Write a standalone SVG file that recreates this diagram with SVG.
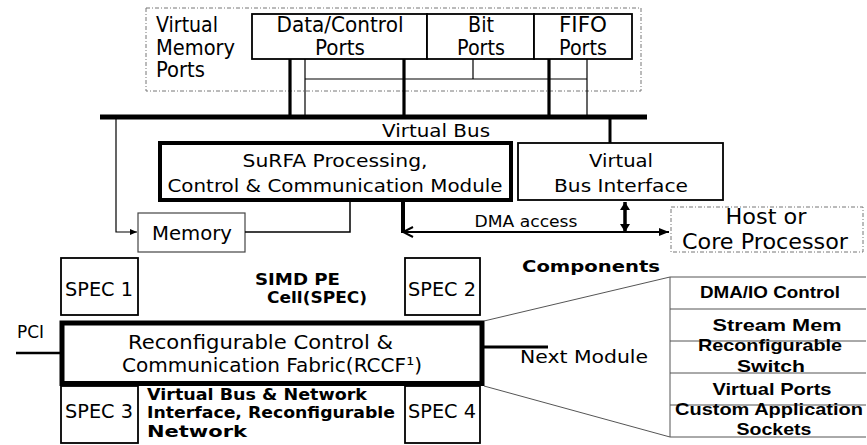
<svg xmlns="http://www.w3.org/2000/svg" width="867" height="445" viewBox="0 0 867 445">
  <style>
    .t { font-family: "DejaVu Sans", Verdana, sans-serif; fill: #000; }
    .b { font-family: "DejaVu Sans", Verdana, sans-serif; font-weight: bold; fill: #000; }
    .a { font-family: "Liberation Sans", Arial, sans-serif; font-weight: bold; fill: #000; font-size: 16.5px; }
    .m { text-anchor: middle; }
    .box { fill: #fff; stroke: #000; stroke-width: 1.8; }
    .heavy { fill: #fff; stroke: #000; stroke-width: 4; }
    .dash { fill: none; stroke: #777; stroke-width: 1; stroke-dasharray: 4 2 1 2; }
    .w { fill: none; stroke: #000; }
    .g { fill: none; stroke: #555; stroke-width: 1; }
  </style>
  <defs>
    <marker id="ah" markerUnits="userSpaceOnUse" markerWidth="10" markerHeight="8" refX="10" refY="4" orient="auto-start-reverse">
      <path d="M0,0 L10,4 L0,8 z" fill="#000"/>
    </marker>
    <marker id="ahSmall" markerUnits="userSpaceOnUse" markerWidth="7" markerHeight="6" refX="7" refY="3" orient="auto">
      <path d="M0,0 L7,3 L0,6 z" fill="#000"/>
    </marker>
    <marker id="chev" markerUnits="userSpaceOnUse" markerWidth="12" markerHeight="12" refX="11" refY="6" orient="auto-start-reverse">
      <path d="M1,1 L11,6 L1,11" fill="none" stroke="#000" stroke-width="2"/>
    </marker>
    <marker id="ahBig" markerUnits="userSpaceOnUse" markerWidth="8" markerHeight="10" refX="8" refY="5" orient="auto-start-reverse">
      <path d="M0,0 L8,5 L0,10 z" fill="#000"/>
    </marker>
  </defs>

  <!-- Virtual memory ports cluster -->
  <g id="virtual-memory-ports">
    <rect class="dash" x="146" y="8" width="495" height="83"/>
    <text class="t" font-size="20.5" x="156" y="32" textLength="62" lengthAdjust="spacingAndGlyphs">Virtual</text>
    <text class="t" font-size="20.5" x="156" y="55" textLength="79" lengthAdjust="spacingAndGlyphs">Memory</text>
    <text class="t" font-size="20.5" x="156" y="77" textLength="49" lengthAdjust="spacingAndGlyphs">Ports</text>
  </g>
  <g id="data-control-ports">
    <rect class="box" x="252" y="14" width="175" height="45"/>
    <text class="t m" font-size="20.5" x="340" y="32" textLength="127" lengthAdjust="spacingAndGlyphs">Data/Control</text>
    <text class="t m" font-size="20.5" x="340" y="55" textLength="50" lengthAdjust="spacingAndGlyphs">Ports</text>
  </g>
  <g id="bit-ports">
    <rect class="box" x="427" y="14" width="107" height="45"/>
    <text class="t m" font-size="20.5" x="481" y="32" textLength="26" lengthAdjust="spacingAndGlyphs">Bit</text>
    <text class="t m" font-size="20.5" x="481" y="55" textLength="48" lengthAdjust="spacingAndGlyphs">Ports</text>
  </g>
  <g id="fifo-ports">
    <rect class="box" x="534" y="14" width="98" height="45"/>
    <text class="t m" font-size="20.5" x="583" y="32" textLength="48" lengthAdjust="spacingAndGlyphs">FIFO</text>
    <text class="t m" font-size="20.5" x="583" y="55" textLength="48" lengthAdjust="spacingAndGlyphs">Ports</text>
  </g>

  <!-- Modules -->
  <g id="surfa-module">
    <rect class="heavy" x="160" y="143" width="351" height="57"/>
    <text class="t m" font-size="17.5" x="335" y="167" textLength="185" lengthAdjust="spacingAndGlyphs">SuRFA Processing,</text>
    <text class="t m" font-size="17.5" x="335" y="192" textLength="335" lengthAdjust="spacingAndGlyphs">Control &amp; Communication Module</text>
  </g>
  <g id="virtual-bus-interface">
    <rect class="box" x="518" y="143" width="205" height="57"/>
    <text class="t m" font-size="17.5" x="621" y="167" textLength="64" lengthAdjust="spacingAndGlyphs">Virtual</text>
    <text class="t m" font-size="17.5" x="621" y="192" textLength="134" lengthAdjust="spacingAndGlyphs">Bus Interface</text>
  </g>
  <g id="memory">
    <rect x="138" y="213" width="107" height="39" fill="#fff" stroke="#444" stroke-width="1.2"/>
    <text class="t m" font-size="20" x="192" y="240" textLength="80" lengthAdjust="spacingAndGlyphs">Memory</text>
  </g>
  <g id="host-processor">
    <rect class="dash" x="671" y="207" width="192" height="45"/>
    <text class="t m" font-size="21.5" x="766" y="224" textLength="81" lengthAdjust="spacingAndGlyphs">Host or</text>
    <text class="t m" font-size="21.5" x="765" y="249" textLength="166" lengthAdjust="spacingAndGlyphs">Core Processor</text>
  </g>

  <!-- SIMD PE cells around the fabric -->
  <g id="spec-1">
    <rect class="box" x="61" y="258" width="77" height="57"/>
    <text class="t m" font-size="20" x="99" y="296" textLength="68" lengthAdjust="spacingAndGlyphs">SPEC 1</text>
  </g>
  <g id="spec-2">
    <rect class="box" x="405" y="258" width="75" height="57"/>
    <text class="t m" font-size="20" x="442" y="296" textLength="68" lengthAdjust="spacingAndGlyphs">SPEC 2</text>
  </g>
  <g id="spec-3">
    <rect class="box" x="61" y="386" width="77" height="57"/>
    <text class="t m" font-size="20" x="99" y="418" textLength="68" lengthAdjust="spacingAndGlyphs">SPEC 3</text>
  </g>
  <g id="spec-4">
    <rect class="box" x="405" y="386" width="75" height="57"/>
    <text class="t m" font-size="20" x="442" y="418" textLength="68" lengthAdjust="spacingAndGlyphs">SPEC 4</text>
  </g>
  <g id="spec-label">
    <text class="b m" font-size="16" x="297.5" y="285" textLength="85" lengthAdjust="spacingAndGlyphs">SIMD PE</text>
    <text class="b m" font-size="16" x="317" y="303" textLength="100" lengthAdjust="spacingAndGlyphs">Cell(SPEC)</text>
  </g>
  <g id="network-label">
    <text class="b" font-size="16" x="147" y="400" textLength="220" lengthAdjust="spacingAndGlyphs">Virtual Bus &amp; Network</text>
    <text class="b" font-size="16" x="147" y="418" textLength="248" lengthAdjust="spacingAndGlyphs">Interface, Reconfigurable</text>
    <text class="b" font-size="16" x="147" y="437" textLength="100" lengthAdjust="spacingAndGlyphs">Network</text>
  </g>
  <g id="rccf">
    <rect x="62" y="323" width="420" height="60.5" fill="#fff" stroke="#000" stroke-width="5"/>
    <text class="t m" font-size="20" x="260.5" y="349" textLength="265" lengthAdjust="spacingAndGlyphs">Reconfigurable Control &amp;</text>
    <text class="t m" font-size="20" x="272" y="372" textLength="300" lengthAdjust="spacingAndGlyphs">Communication Fabric(RCCF¹)</text>
  </g>

  <!-- Component breakdown table -->
  <g id="components">
    <text class="b m" font-size="16.5" x="591" y="272" textLength="138" lengthAdjust="spacingAndGlyphs">Components</text>
    <path class="g" d="M670,277 H866 M670,309 H866 M670,341 H866 M670,373 H866 M670,405 H866 M670,437 H866 M670,277 V437"/>
    <text class="a m" x="770" y="298" textLength="140" lengthAdjust="spacingAndGlyphs">DMA/IO Control</text>
    <text class="a m" x="777" y="331" textLength="129" lengthAdjust="spacingAndGlyphs">Stream Mem</text>
    <text class="a m" x="770" y="351" textLength="144" lengthAdjust="spacingAndGlyphs">Reconfigurable</text>
    <text class="a m" x="771" y="372" textLength="68" lengthAdjust="spacingAndGlyphs">Switch</text>
    <text class="a m" x="772" y="395" textLength="119" lengthAdjust="spacingAndGlyphs">Virtual Ports</text>
    <text class="a m" x="769" y="415" textLength="188" lengthAdjust="spacingAndGlyphs">Custom Application</text>
    <text class="a m" x="774" y="435" textLength="75" lengthAdjust="spacingAndGlyphs">Sockets</text>
  </g>

  <!-- Buses, links and arrows -->
  <g id="connectors">
    <!-- virtual bus -->
    <line class="w" x1="100" y1="117" x2="647" y2="117" stroke-width="5"/>
    <text class="t m" font-size="18.5" x="436" y="137" textLength="108" lengthAdjust="spacingAndGlyphs">Virtual Bus</text>
    <!-- port drops onto the bus -->
    <path class="w" stroke-width="3.2" d="M290,59 V117 M404,59 V117 M549,59 V117"/>
    <path class="w" stroke-width="1.2" d="M305,59 V117 M587,59 V117 M473,59 V79 M305,79 H587"/>
    <!-- bus to interface -->
    <line class="w" x1="610" y1="117" x2="610" y2="143" stroke-width="3"/>
    <!-- bus to memory -->
    <polyline class="w" stroke-width="1.2" points="116,119 116,232 137,232" marker-end="url(#ahSmall)"/>
    <!-- module to memory -->
    <polyline class="w" stroke-width="1.5" points="350,200 350,232 245,232"/>
    <!-- module DMA path -->
    <line class="w" x1="403" y1="200" x2="403" y2="233" stroke-width="4"/>
    <line class="w" x1="403" y1="232" x2="669" y2="232" stroke-width="2" marker-start="url(#chev)" marker-end="url(#ah)"/>
    <text class="t m" font-size="15.5" x="526" y="227" textLength="103" lengthAdjust="spacingAndGlyphs">DMA access</text>
    <line class="w" x1="625" y1="202" x2="625" y2="232" stroke-width="3.5" marker-start="url(#ahBig)" marker-end="url(#ahBig)"/>
    <!-- external links of the fabric -->
    <line class="w" x1="16" y1="353" x2="60" y2="353" stroke-width="2.5"/>
    <text class="t" font-size="18" x="17" y="338" textLength="27" lengthAdjust="spacingAndGlyphs">PCI</text>
    <line class="w" x1="484" y1="347" x2="548" y2="347" stroke-width="3"/>
    <text class="t" font-size="18.5" x="520" y="363" textLength="128" lengthAdjust="spacingAndGlyphs">Next Module</text>
    <!-- expansion lines to the component table -->
    <line class="g" x1="484" y1="321" x2="670" y2="277"/>
    <line class="g" x1="484" y1="386" x2="670" y2="437"/>
  </g>
</svg>
